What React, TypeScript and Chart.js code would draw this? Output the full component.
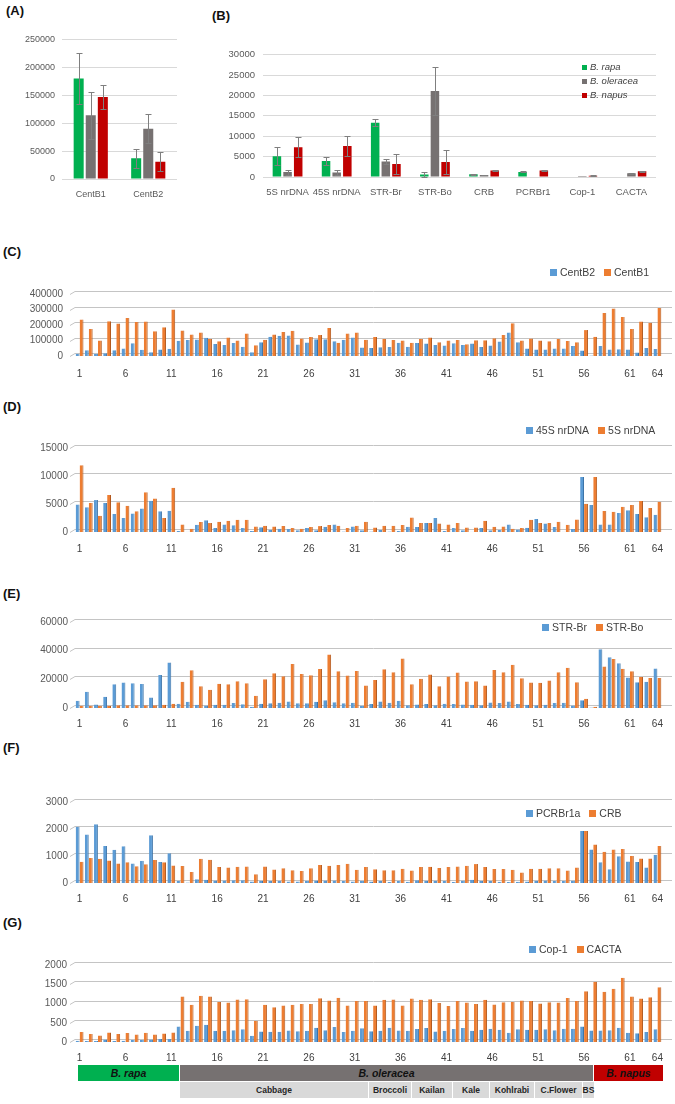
import React, { useEffect, useRef } from 'react';
import { Chart, registerables } from 'chart.js';

Chart.register(...registerables);

const FONT = "'Liberation Sans', Arial, Helvetica, sans-serif";
const TICK_COLOR = '#595959';

// ---------- Panel A ----------
const A_categories = ['CentB1', 'CentB2'];
const A_rapa = [180000, 37000];
const A_oleracea = [114000, 90000];
const A_napus = [147000, 31000];
const A_rapa_err = [45000, 17000];
const A_oleracea_err = [42000, 26000];
const A_napus_err = [21000, 17000];
const A_ticks = { max: 250000, step: 50000 };

// ---------- Panel B ----------
const B_categories = ['5S nrDNA', '45S nrDNA', 'STR-Br', 'STR-Bo', 'CRB', 'PCRBr1', 'Cop-1', 'CACTA'];
const B_rapa = [5100, 3900, 13300, 600, 700, 1250, 150, 150];
const B_oleracea = [1200, 1100, 3800, 21100, 500, 100, 250, 900];
const B_napus = [7300, 7600, 3200, 3700, 1600, 1600, 300, 1400];
const B_rapa_err = [2200, 900, 900, 600, 100, 100, 0, 0];
const B_oleracea_err = [600, 500, 500, 5800, 100, 0, 0, 100];
const B_napus_err = [2400, 2400, 2500, 3000, 200, 200, 100, 100];
const B_ticks = { max: 30000, step: 5000 };
const speciesNames = ['B. rapa', 'B. oleracea', 'B. napus'];

// ---------- Sample panels C-G ----------
const sampleLabels = [
  '1', '2', '3', '4', '5', '6', '7', '8', '9', '10', '11', '12', '13', '14', '15', '16',
  '17', '18', '19', '20', '21', '22', '23', '24', '25', '26', '27', '28', '29', '30', '31', '32',
  '33', '34', '35', '36', '37', '38', '39', '40', '41', '42', '43', '44', '45', '46', '47', '48',
  '49', '50', '51', '52', '53', '54', '55', '56', '57', '58', '59', '60', '61', '62', '63', '64'
];

const C_CentB2 = [15000, 37000, 15000, 18000, 37000, 48000, 82000, 40000, 25000, 42000,
  46000, 98000, 103000, 107000, 118000, 78000, 71000, 84000, 60000, 25000,
  88000, 125000, 130000, 133000, 75000, 87000, 108000, 108000, 95000, 105000,
  120000, 55000, 51000, 56000, 58000, 85000, 60000, 84000, 80000, 71000,
  67000, 82000, 71000, 80000, 58000, 67000, 93000, 151000, 89000, 49000,
  42000, 42000, 49000, 49000, 65000, 35000, 4000, 65000, 42000, 44000,
  42000, 22000, 51000, 45000];
const C_CentB1 = [235000, 175000, 100000, 225000, 210000, 245000, 220000, 222000, 160000, 185000,
  300000, 165000, 138000, 152000, 110000, 95000, 120000, 100000, 145000, 70000,
  105000, 138000, 155000, 163000, 113000, 122000, 135000, 180000, 85000, 145000,
  151000, 105000, 122000, 109000, 104000, 100000, 85000, 109000, 120000, 89000,
  100000, 104000, 76000, 102000, 102000, 115000, 136000, 211000, 100000, 113000,
  100000, 95000, 109000, 96000, 89000, 167000, 125000, 278000, 307000, 251000,
  175000, 222000, 215000, 309000];

const D_45S = [4900, 4400, 5700, 5200, 3200, 2500, 3300, 4200, 5600, 3700,
  3800, 200, 50, 1300, 2100, 700, 1350, 1200, 700, 200,
  850, 400, 600, 550, 300, 700, 300, 950, 1350, 100,
  1000, 300, 100, 350, 100, 200, 950, 900, 1600, 2500,
  200, 700, 300, 50, 700, 300, 350, 1350, 450, 750,
  2300, 1500, 900, 50, 550, 9800, 4800, 1350, 1350, 3400,
  3900, 3200, 2650, 3100];
const D_5S = [11900, 5200, 2900, 6600, 5300, 4700, 3700, 7100, 6000, 2500,
  7900, 1350, 600, 1800, 1600, 1850, 2000, 2200, 2200, 1000,
  1100, 1000, 1050, 700, 600, 900, 1050, 1250, 1100, 700,
  1100, 1850, 800, 1100, 1100, 1250, 2600, 1600, 1600, 1500,
  1350, 1600, 800, 800, 2000, 950, 1000, 600, 700, 2200,
  1600, 1600, 1850, 1300, 2250, 5050, 9800, 3750, 3600, 4500,
  4800, 5550, 4300, 5400];

const E_STRBr = [5000, 11300, 2400, 7800, 16500, 17800, 17200, 16700, 7400, 23000,
  31700, 3000, 4300, 2200, 1700, 2200, 2200, 3500, 2600, 900,
  3000, 3300, 3700, 4600, 3300, 3300, 4300, 5400, 4000, 3300,
  3700, 1500, 2800, 4600, 3700, 5000, 2000, 2400, 2800, 2000,
  3000, 2800, 2400, 2200, 2000, 3900, 3500, 4600, 2800, 2200,
  2000, 2200, 3500, 3700, 1700, 5400, 300, 41000, 35400, 31300,
  21300, 18000, 18300, 27600];
const E_STRBo = [1500, 1500, 1500, 1500, 2000, 2000, 2000, 2000, 2000, 2200,
  3000, 18300, 26300, 15200, 12800, 17000, 16500, 18700, 17200, 8500,
  20000, 24300, 22200, 30700, 23700, 22800, 27200, 37400, 25700, 22600,
  25900, 15700, 19600, 27000, 25000, 34600, 16500, 20400, 23300, 15200,
  22000, 24800, 18500, 18700, 15700, 26500, 25000, 30200, 20700, 17800,
  17600, 19100, 25000, 28000, 18000, 6500, 900, 28900, 34100, 27400,
  25700, 21700, 20900, 20900];

const F_PCRBr1a = [2080, 1800, 2180, 1370, 1230, 1360, 720, 820, 1770, 780,
  1100, 70, 20, 140, 120, 90, 90, 100, 100, 60,
  80, 70, 80, 60, 60, 70, 90, 90, 90, 70,
  60, 70, 60, 70, 40, 70, 50, 100, 80, 80,
  70, 40, 80, 120, 70, 70, 50, 40, 50, 60,
  80, 90, 70, 70, 80, 1930, 1240, 770, 510, 990,
  800, 780, 570, 1050];
const F_CRB = [790, 930, 900, 830, 720, 770, 620, 690, 850, 770,
  650, 630, 410, 900, 860, 590, 570, 600, 610, 320,
  610, 500, 550, 470, 440, 550, 670, 640, 670, 710,
  490, 590, 510, 470, 470, 530, 460, 590, 600, 560,
  590, 610, 640, 700, 590, 520, 520, 490, 390, 530,
  530, 550, 550, 460, 570, 1930, 1430, 1160, 1240, 1260,
  1000, 910, 910, 1370];

const G_Cop1 = [30, 25, 25, 65, 25, 30, 50, 50, 65, 75,
  75, 400, 290, 420, 450, 290, 290, 305, 330, 160,
  275, 265, 265, 300, 280, 290, 370, 305, 390, 260,
  290, 355, 280, 290, 370, 300, 290, 340, 365, 275,
  290, 340, 365, 290, 320, 345, 315, 240, 330, 315,
  315, 330, 305, 345, 345, 400, 300, 300, 305, 370,
  240, 225, 260, 330];
const G_CACTA = [260, 210, 170, 250, 210, 235, 195, 240, 195, 220,
  250, 1185, 970, 1200, 1185, 1040, 1025, 1105, 1110, 555,
  970, 900, 945, 970, 990, 990, 1135, 1080, 1150, 950,
  1065, 1065, 950, 1100, 1105, 945, 1130, 1100, 1110, 1010,
  935, 1065, 1025, 990, 1100, 975, 1030, 1040, 1080, 1065,
  1000, 1030, 1025, 1145, 1065, 1320, 1565, 1305, 1380, 1670,
  1180, 1130, 1160, 1425];

// group annotations under panel G
const speciesGroups = ['B. rapa', 'B. oleracea', 'B. napus'];
const subGroups = ['Cabbage', 'Broccoli', 'Kailan', 'Kale', 'Kohlrabi', 'C.Flower', 'BS'];

// ---------- styling ----------
const GREEN = '#00b050';
const GRAY = '#767171';
const RED = '#c00000';
const BLUE = '#5b9bd5';
const BLUE_EDGE = '#3d74a8';
const ORANGE = '#ed7d31';
const ORANGE_EDGE = '#b35a1f';

type Geo = {
  left: number; top: number; width: number; height: number;
  yW: number; xH: number; padTop: number; padRight: number;
};

const errorBarPlugin = {
  id: 'errorBars',
  afterDatasetsDraw(chart: any, _args: any, opts: any) {
    const errs: number[][] = opts && opts.errors;
    if (!errs) return;
    const ctx = chart.ctx;
    const ys = chart.scales.y;
    ctx.save();
    ctx.strokeStyle = '#7f7f7f';
    ctx.lineWidth = 1;
    chart.data.datasets.forEach((ds: any, di: number) => {
      const meta = chart.getDatasetMeta(di);
      meta.data.forEach((bar: any, i: number) => {
        const e = errs[di] ? errs[di][i] : 0;
        if (!e) return;
        const v = ds.data[i] as number;
        const x = Math.round(bar.x) + 0.5;
        const yt = Math.round(ys.getPixelForValue(v + e)) + 0.5;
        const yb = Math.round(ys.getPixelForValue(Math.max(v - e, 0))) + 0.5;
        ctx.beginPath();
        ctx.moveTo(x, yt); ctx.lineTo(x, yb);
        ctx.moveTo(x - 3, yt); ctx.lineTo(x + 3, yt);
        ctx.moveTo(x - 3, yb); ctx.lineTo(x + 3, yb);
        ctx.stroke();
      });
    });
    ctx.restore();
  }
};

const grid3dPlugin = {
  id: 'grid3d',
  beforeDatasetsDraw(chart: any) {
    const { ctx, chartArea } = chart;
    const ys = chart.scales.y;
    ctx.save();
    ctx.strokeStyle = '#c4c4c4';
    ctx.lineWidth = 1;
    ys.ticks.forEach((t: any) => {
      const y = Math.round(ys.getPixelForValue(t.value)) + 0.5;
      ctx.beginPath();
      ctx.moveTo(chartArea.left - 5, y);
      ctx.lineTo(chartArea.left, y - 3);
      ctx.lineTo(chartArea.right + 10, y - 3);
      ctx.stroke();
    });
    ctx.restore();
  }
};

function ChartCanvas({ geo, build }: { geo: Geo; build: () => any }) {
  const ref = useRef<HTMLCanvasElement | null>(null);
  useEffect(() => {
    if (!ref.current) return;
    const chart = new Chart(ref.current, build());
    return () => chart.destroy();
  }, []);
  return (
    <canvas
      ref={ref}
      width={geo.width}
      height={geo.height}
      style={{ position: 'absolute', left: geo.left, top: geo.top, width: geo.width, height: geo.height, display: 'block' }}
    />
  );
}

function speciesConfig(categories: string[], series: number[][], errs: number[][], yMax: number, yStep: number,
  geo: Geo, fontSize: number, yPad: number, xPad: number, cp: number, bp: number) {
  const colors = [GREEN, GRAY, RED];
  return {
    type: 'bar',
    data: {
      labels: categories,
      datasets: series.map((d, k) => ({
        label: speciesNames[k],
        data: d,
        backgroundColor: colors[k],
        borderWidth: 0,
        categoryPercentage: cp,
        barPercentage: bp,
      })),
    },
    options: {
      responsive: false,
      animation: false,
      devicePixelRatio: 1,
      layout: { padding: { left: 0, right: geo.padRight, top: geo.padTop, bottom: 0 } },
      plugins: { legend: { display: false }, tooltip: { enabled: false }, errorBars: { errors: errs } },
      scales: {
        x: {
          grid: { display: false },
          border: { display: false },
          ticks: { color: TICK_COLOR, padding: xPad, maxRotation: 0, autoSkip: false, font: { family: FONT, size: fontSize } },
          afterFit: (s: any) => { s.height = geo.xH; },
        },
        y: {
          min: 0,
          max: yMax,
          grid: { color: '#d9d9d9', drawTicks: false },
          border: { display: false },
          ticks: { stepSize: yStep, padding: yPad, color: TICK_COLOR, font: { family: FONT, size: fontSize }, callback: (v: any) => String(v) },
          afterFit: (s: any) => { s.width = geo.yW; },
        },
      },
    },
    plugins: [errorBarPlugin],
  };
}

function sampleConfig(blue: number[], orange: number[], names: string[], yMax: number, yStep: number,
  geo: Geo, yPad: number, xPad: number) {
  return {
    type: 'bar',
    data: {
      labels: sampleLabels,
      datasets: [
        { label: names[0], data: blue, backgroundColor: BLUE, borderColor: BLUE_EDGE,
          borderWidth: { top: 0, right: 1, bottom: 0, left: 0 }, categoryPercentage: 0.86, barPercentage: 0.98 },
        { label: names[1], data: orange, backgroundColor: ORANGE, borderColor: ORANGE_EDGE,
          borderWidth: { top: 0, right: 1, bottom: 0, left: 0 }, categoryPercentage: 0.86, barPercentage: 0.98 },
      ],
    },
    options: {
      responsive: false,
      animation: false,
      devicePixelRatio: 1,
      layout: { padding: { left: 0, right: geo.padRight, top: geo.padTop, bottom: 0 } },
      plugins: { legend: { display: false }, tooltip: { enabled: false } },
      scales: {
        x: {
          offset: true,
          grid: { display: false },
          border: { display: false },
          ticks: {
            color: '#404040', padding: xPad, maxRotation: 0, minRotation: 0, autoSkip: false,
            font: { family: FONT, size: 10 },
            callback: (_v: any, i: number) => (i % 5 === 0 || i === sampleLabels.length - 1) ? sampleLabels[i] : '',
          },
          afterFit: (s: any) => { s.height = geo.xH; },
        },
        y: {
          min: 0,
          max: yMax,
          grid: { display: false, drawTicks: false },
          border: { display: false },
          ticks: { stepSize: yStep, padding: yPad, color: TICK_COLOR, font: { family: FONT, size: 10 }, callback: (v: any) => String(v) },
          afterFit: (s: any) => { s.width = geo.yW; },
        },
      },
    },
    plugins: [grid3dPlugin],
  };
}

function PanelLabel({ text, left, top }: { text: string; left: number; top: number }) {
  return (
    <div style={{ position: 'absolute', left, top, fontFamily: FONT, fontWeight: 'bold', fontSize: 13, lineHeight: '15px', color: '#111' }}>
      {text}
    </div>
  );
}

function SeriesLegend({ left, top, items }: { left: number; top: number; items: { label: string; color: string }[] }) {
  return (
    <div style={{ position: 'absolute', left, top, display: 'flex', alignItems: 'center', fontFamily: FONT, fontSize: 10.5, lineHeight: '12px', color: '#404040', whiteSpace: 'nowrap' }}>
      {items.map((it, k) => (
        <span key={k} style={{ display: 'flex', alignItems: 'center', marginRight: 9 }}>
          <span style={{ display: 'inline-block', width: 7, height: 7, background: it.color, marginRight: 3 }} />
          {it.label}
        </span>
      ))}
    </div>
  );
}

const geoA: Geo = { left: 0, top: 27, width: 182, height: 185, yW: 62, xH: 33, padTop: 8, padRight: 5 };
const geoB: Geo = { left: 215, top: 41, width: 447, height: 171, yW: 48, xH: 35, padTop: 8, padRight: 6 };
const geoC: Geo = { left: 0, top: 276, width: 675, height: 112, yW: 75, xH: 32, padTop: 8, padRight: 13 };
const geoD: Geo = { left: 0, top: 435, width: 675, height: 129, yW: 75, xH: 32, padTop: 8, padRight: 13 };
const geoE: Geo = { left: 0, top: 609, width: 675, height: 131, yW: 75, xH: 32, padTop: 8, padRight: 13 };
const geoF: Geo = { left: 0, top: 789, width: 675, height: 126, yW: 75, xH: 32, padTop: 8, padRight: 13 };
const geoG: Geo = { left: 0, top: 951, width: 675, height: 114, yW: 75, xH: 23, padTop: 8, padRight: 13 };

const groupBoxes = [
  { left: 78, width: 101, color: GREEN },
  { left: 180, width: 413, color: GRAY },
  { left: 594, width: 69, color: RED },
];
const subBoxes = [
  { left: 180, width: 188 },
  { left: 369, width: 42 },
  { left: 412, width: 40 },
  { left: 453, width: 36 },
  { left: 490, width: 44 },
  { left: 535, width: 47 },
  { left: 583, width: 11 },
];

export default function App() {
  return (
    <div style={{ position: 'absolute', left: 0, top: 0, width: 675, height: 1104, background: '#fff', overflow: 'hidden' }}>
      <PanelLabel text="(A)" left={6} top={3} />
      <PanelLabel text="(B)" left={212} top={8} />
      <PanelLabel text="(C)" left={3} top={244} />
      <PanelLabel text="(D)" left={3} top={399} />
      <PanelLabel text="(E)" left={3} top={586} />
      <PanelLabel text="(F)" left={3} top={740} />
      <PanelLabel text="(G)" left={3} top={915} />

      <ChartCanvas geo={geoA} build={() => speciesConfig(A_categories, [A_rapa, A_oleracea, A_napus],
        [A_rapa_err, A_oleracea_err, A_napus_err], A_ticks.max, A_ticks.step, geoA, 9, 7, 2, 0.63, 0.83)} />
      <ChartCanvas geo={geoB} build={() => speciesConfig(B_categories, [B_rapa, B_oleracea, B_napus],
        [B_rapa_err, B_oleracea_err, B_napus_err], B_ticks.max, B_ticks.step, geoB, 9.5, 8, 2, 0.65, 0.8)} />

      <div style={{ position: 'absolute', left: 582, top: 60, fontFamily: FONT, fontSize: 9.5, fontStyle: 'italic', color: '#404040', lineHeight: '14px' }}>
        {speciesNames.map((n, k) => (
          <div key={k} style={{ display: 'flex', alignItems: 'center', whiteSpace: 'nowrap' }}>
            <span style={{ display: 'inline-block', width: 5, height: 5, background: [GREEN, GRAY, RED][k], marginRight: 3 }} />
            {n}
          </div>
        ))}
      </div>

      <ChartCanvas geo={geoC} build={() => sampleConfig(C_CentB2, C_CentB1, ['CentB2', 'CentB1'], 400000, 100000, geoC, 12, 4)} />
      <ChartCanvas geo={geoD} build={() => sampleConfig(D_45S, D_5S, ['45S nrDNA', '5S nrDNA'], 15000, 5000, geoD, 7, 3)} />
      <ChartCanvas geo={geoE} build={() => sampleConfig(E_STRBr, E_STRBo, ['STR-Br', 'STR-Bo'], 60000, 20000, geoE, 7, 2)} />
      <ChartCanvas geo={geoF} build={() => sampleConfig(F_PCRBr1a, F_CRB, ['PCRBr1a', 'CRB'], 3000, 1000, geoF, 7, 2)} />
      <ChartCanvas geo={geoG} build={() => sampleConfig(G_Cop1, G_CACTA, ['Cop-1', 'CACTA'], 2000, 500, geoG, 8, 2)} />

      <SeriesLegend left={550} top={266} items={[{ label: 'CentB2', color: BLUE }, { label: 'CentB1', color: ORANGE }]} />
      <SeriesLegend left={526} top={424} items={[{ label: '45S nrDNA', color: BLUE }, { label: '5S nrDNA', color: ORANGE }]} />
      <SeriesLegend left={542} top={621} items={[{ label: 'STR-Br', color: BLUE }, { label: 'STR-Bo', color: ORANGE }]} />
      <SeriesLegend left={526} top={807} items={[{ label: 'PCRBr1a', color: BLUE }, { label: 'CRB', color: ORANGE }]} />
      <SeriesLegend left={529} top={943} items={[{ label: 'Cop-1', color: BLUE }, { label: 'CACTA', color: ORANGE }]} />

      {groupBoxes.map((g, k) => (
        <div key={'g' + k} style={{ position: 'absolute', left: g.left, top: 1065, width: g.width, height: 16, background: g.color,
          display: 'flex', alignItems: 'center', justifyContent: 'center', fontFamily: FONT, fontSize: 10.5,
          fontWeight: 'bold', fontStyle: 'italic', color: '#111' }}>
          {speciesGroups[k]}
        </div>
      ))}
      {subBoxes.map((s, k) => (
        <div key={'s' + k} style={{ position: 'absolute', left: s.left, top: 1082, width: s.width, height: 16, background: '#d9d9d9',
          display: 'flex', alignItems: 'center', justifyContent: 'center', fontFamily: FONT, fontSize: 8.5,
          fontWeight: 'bold', color: '#262626', whiteSpace: 'nowrap', overflow: 'visible' }}>
          {subGroups[k]}
        </div>
      ))}
    </div>
  );
}
